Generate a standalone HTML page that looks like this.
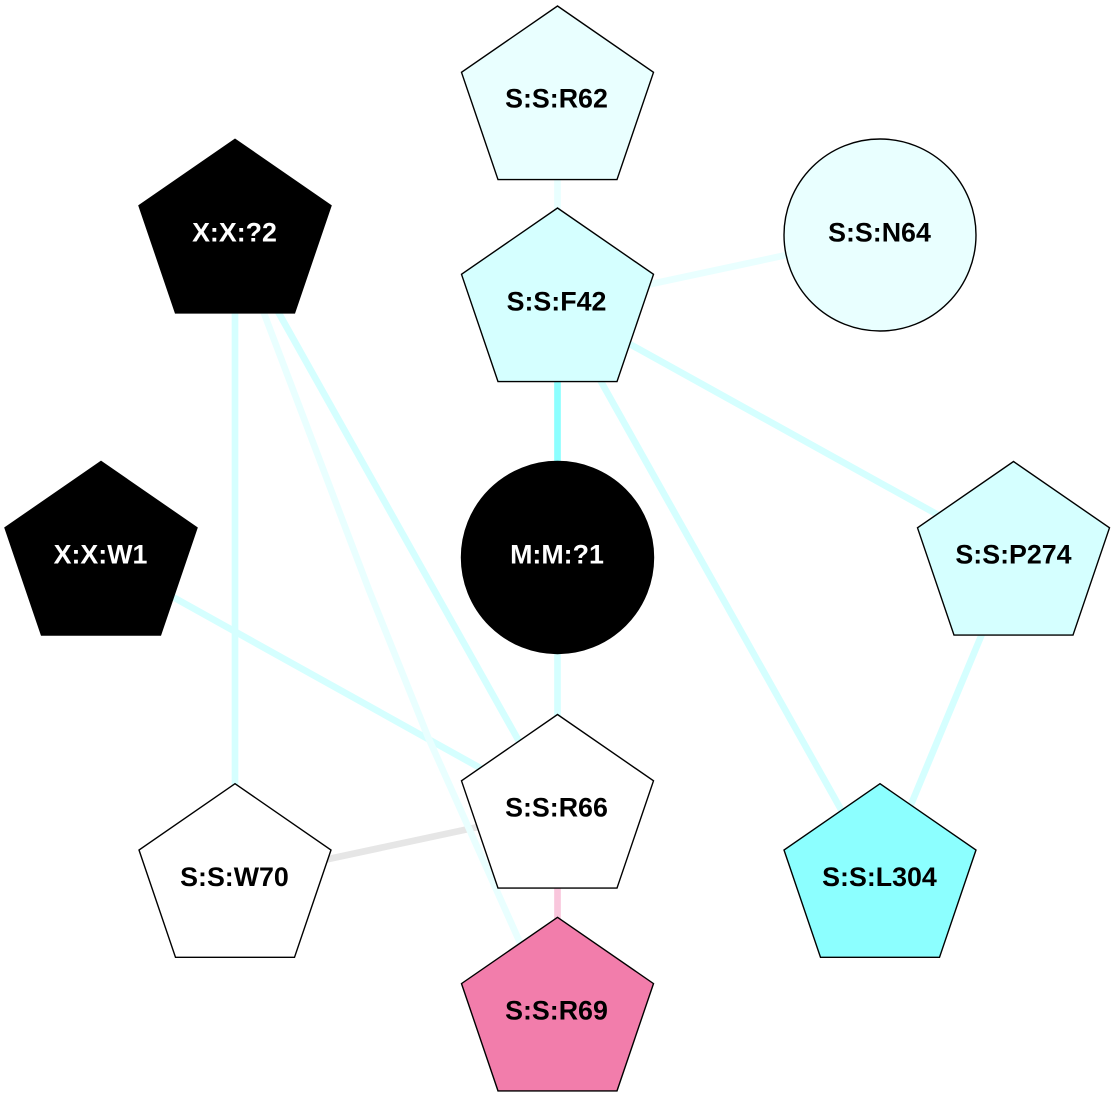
<!DOCTYPE html>
<html>
<head>
<meta charset="utf-8">
<style>
html,body{margin:0;padding:0;background:#fff}
svg{display:block}
text{font-family:"Liberation Sans",Arial,sans-serif;font-weight:bold;font-size:26.8px;text-anchor:middle}
.n{stroke:#000;stroke-width:1.4;stroke-linejoin:miter}
</style>
</head>
<body>
<svg width="1115" height="1115" viewBox="0 0 1115 1115" xmlns="http://www.w3.org/2000/svg">
<defs>
<polygon id="p" points="0,0 96,66.3 59.5,173.6 -59.5,173.6 -96,66.3"/>
</defs>
<rect width="1115" height="1115" fill="#fff"/>
<g fill="none" stroke-width="6.67" stroke-linejoin="round">
<line x1="557.5" y1="102" x2="557.5" y2="304" stroke="#e9ffff"/>
<line x1="557.5" y1="304" x2="880" y2="235" stroke="#e9ffff"/>
<line x1="557.5" y1="304" x2="557.5" y2="557" stroke="#8cffff"/>
<line x1="557.5" y1="304" x2="1014" y2="557" stroke="#d5ffff"/>
<line x1="557.5" y1="304" x2="880" y2="879" stroke="#d5ffff"/>
<line x1="1014" y1="557" x2="880" y2="879" stroke="#d5ffff"/>
<line x1="557.5" y1="557" x2="557.5" y2="810" stroke="#d5ffff"/>
<line x1="235" y1="235" x2="235" y2="879" stroke="#d5ffff"/>
<line x1="235" y1="235" x2="557.5" y2="810" stroke="#d5ffff"/>
<line x1="101" y1="557" x2="557.5" y2="811" stroke="#d5ffff"/>
<line x1="235" y1="879" x2="557.5" y2="810" stroke="#e6e6e6"/>
<polyline points="262,308 369,590 428,737 492,880 530,965" stroke="#e9ffff"/>
<line x1="557.5" y1="810" x2="557.5" y2="1013" stroke="#f9c6dc"/>
</g>
<use href="#p" x="557.5" y="6" class="n" fill="#e9ffff"/>
<use href="#p" x="557.5" y="208" class="n" fill="#d5ffff"/>
<use href="#p" x="235" y="139.3" class="n" fill="#000"/>
<use href="#p" x="101" y="461.5" class="n" fill="#000"/>
<use href="#p" x="1013.5" y="461.5" class="n" fill="#d5ffff"/>
<use href="#p" x="557.5" y="714.5" class="n" fill="#fff"/>
<use href="#p" x="235" y="783.7" class="n" fill="#fff"/>
<use href="#p" x="880" y="783.7" class="n" fill="#8cffff"/>
<use href="#p" x="557.5" y="917.3" class="n" fill="#f27dab"/>
<circle cx="880" cy="235" r="96" class="n" fill="#e9ffff"/>
<circle cx="557.5" cy="557.5" r="96" class="n" fill="#000"/>
<text x="556.5" y="107.5">S:S:R62</text>
<text x="556.5" y="310.5">S:S:F42</text>
<text x="234.5" y="241.5" fill="#fff">X:X:?2</text>
<text x="879.5" y="241.5">S:S:N64</text>
<text x="100.5" y="563.5" fill="#fff">X:X:W1</text>
<text x="557" y="563.5" fill="#fff">M:M:?1</text>
<text x="1013.5" y="563.5">S:S:P274</text>
<text x="556.5" y="816.5">S:S:R66</text>
<text x="234.5" y="886">S:S:W70</text>
<text x="879.5" y="886">S:S:L304</text>
<text x="556.5" y="1019.5">S:S:R69</text>
</svg>
</body>
</html>
